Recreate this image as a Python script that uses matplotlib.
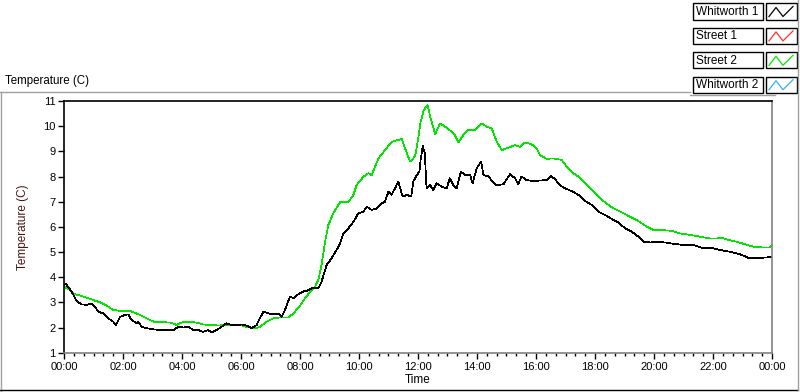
import matplotlib
matplotlib.use('Agg')
import matplotlib.pyplot as plt
from matplotlib.lines import Line2D
from matplotlib.patches import Rectangle
from matplotlib.ticker import MultipleLocator, FuncFormatter

plt.rcParams['font.family'] = ['Liberation Sans', 'DejaVu Sans']

# Lecturas aproximadas (hora del dia, temperatura C)
horas_w1 = [0.0, 0.07, 0.26, 0.43, 0.6, 0.77, 0.94, 1.05, 1.16, 1.33, 1.5, 1.67, 1.76, 1.9,
            2.07, 2.18, 2.29, 2.46, 2.52, 2.63, 2.8, 3.03, 3.25, 3.48, 3.71, 3.88, 4.05,
            4.22, 4.38, 4.55, 4.72, 4.89, 5.0, 5.17, 5.34, 5.51, 5.68, 5.85, 6.02, 6.19,
            6.36, 6.53, 6.64, 6.76, 6.93, 7.1, 7.26, 7.38, 7.49, 7.66, 7.78, 7.94, 8.15,
            8.21, 8.45, 8.62, 8.73, 8.9, 9.07, 9.24, 9.36, 9.47, 9.64, 9.81, 9.98, 10.15,
            10.26, 10.43, 10.6, 10.77, 10.88, 11.0, 11.1, 11.22, 11.33, 11.48, 11.63, 11.77,
            11.84, 11.96, 12.05, 12.09, 12.16, 12.23, 12.29, 12.41, 12.52, 12.63, 12.8,
            12.97, 13.08, 13.2, 13.31, 13.45, 13.6, 13.77, 13.85, 13.99, 14.14, 14.22,
            14.39, 14.53, 14.67, 14.9, 15.12, 15.29, 15.4, 15.51, 15.68, 15.91, 16.14,
            16.36, 16.5, 16.64, 16.81, 16.98, 17.21, 17.44, 17.66, 17.89, 18.11, 18.34,
            18.57, 18.79, 19.02, 19.24, 19.47, 19.64, 19.87, 20.15, 20.43, 20.71, 21.0,
            21.33, 21.67, 21.95, 22.24, 22.58, 22.92, 23.2, 23.48, 23.76, 24.0]
temp_w1 = [3.69, 3.72, 3.42, 3.05, 2.92, 2.9, 2.96, 2.83, 2.63, 2.56, 2.37, 2.23, 2.1, 2.43,
           2.5, 2.52, 2.3, 2.17, 2.23, 2.03, 1.97, 1.93, 1.9, 1.9, 1.9, 2.03, 2.0,
           2.03, 1.9, 1.9, 1.83, 1.9, 1.8, 1.9, 2.03, 2.17, 2.1, 2.1, 2.12, 2.08,
           1.97, 2.1, 2.37, 2.63, 2.56, 2.52, 2.56, 2.43, 2.7, 3.23, 3.16, 3.32, 3.45,
           3.45, 3.58, 3.55, 3.82, 4.48, 4.75, 5.08, 5.35, 5.74, 5.94, 6.2, 6.54, 6.6,
           6.8, 6.67, 6.73, 6.93, 7.0, 7.4, 7.27, 7.53, 7.8, 7.2, 7.27, 7.2,
           7.8, 8.06, 8.2, 8.66, 9.22, 8.92, 7.53, 7.66, 7.46, 7.73, 7.6,
           7.53, 7.93, 7.66, 7.53, 8.19, 8.06, 8.06, 7.73, 8.33, 8.59, 8.06,
           8.0, 7.8, 7.64, 7.7, 8.09, 7.93, 7.7, 8.0, 7.86, 7.82, 7.84,
           7.86, 8.02, 7.9, 7.66, 7.53, 7.42, 7.27, 7.03, 6.87, 6.6, 6.47,
           6.31, 6.18, 5.94, 5.81, 5.61, 5.41, 5.38, 5.41, 5.37, 5.32, 5.28,
           5.28, 5.15, 5.17, 5.08, 5.01, 4.91, 4.77, 4.75, 4.78, 4.8]

horas_s2 = [0.0, 0.2, 0.37, 0.54, 0.77, 0.99, 1.22, 1.45, 1.67, 1.9, 2.24, 2.46, 2.69, 2.92,
            3.08, 3.37, 3.6, 3.82, 3.99, 4.21, 4.49, 4.72, 5.0, 5.23, 5.46, 5.74, 6.02,
            6.25, 6.48, 6.64, 6.87, 7.1, 7.33, 7.6, 7.78, 8.0, 8.17, 8.34, 8.51, 8.62,
            8.73, 8.85, 8.96, 9.13, 9.36, 9.64, 9.81, 9.92, 10.15, 10.32, 10.43, 10.66,
            10.88, 11.11, 11.33, 11.45, 11.56, 11.73, 11.9, 11.98, 12.09, 12.2, 12.32,
            12.43, 12.58, 12.75, 12.92, 13.14, 13.25, 13.37, 13.54, 13.71, 13.94, 14.16,
            14.33, 14.5, 14.67, 14.84, 15.06, 15.29, 15.46, 15.63, 15.85, 16.02, 16.14,
            16.36, 16.59, 16.87, 17.04, 17.27, 17.49, 17.72, 17.94, 18.17, 18.39, 18.62,
            18.9, 19.19, 19.47, 19.75, 19.98, 20.32, 20.6, 20.88, 21.22, 21.56, 21.9,
            22.12, 22.29, 22.52, 22.8, 23.08, 23.37, 23.71, 23.93, 24.0]
temp_s2 = [3.62, 3.49, 3.32, 3.27, 3.19, 3.09, 3.0, 2.87, 2.7, 2.66, 2.66, 2.56, 2.43, 2.3,
           2.21, 2.21, 2.2, 2.1, 2.2, 2.23, 2.2, 2.12, 2.1, 2.08, 2.1, 2.1, 2.08,
           2.01, 1.97, 2.03, 2.23, 2.37, 2.4, 2.4, 2.56, 2.87, 3.16, 3.42, 3.62, 3.89,
           4.48, 5.41, 6.07, 6.54, 6.98, 6.98, 7.27, 7.66, 7.99, 8.13, 8.06, 8.72,
           9.05, 9.38, 9.45, 9.5, 9.12, 8.59, 8.8, 9.32, 10.18, 10.64, 10.84,
           10.31, 9.68, 10.11, 9.98, 9.78, 9.65, 9.36, 9.65, 9.85, 9.85, 10.11,
           9.98, 9.91, 9.38, 9.05, 9.14, 9.25, 9.18, 9.35, 9.28, 9.12, 8.85,
           8.7, 8.72, 8.66, 8.39, 8.13, 7.95, 7.66, 7.4, 7.13, 6.93, 6.74,
           6.58, 6.4, 6.23, 6.01, 5.87, 5.87, 5.84, 5.74, 5.68, 5.61, 5.54,
           5.54, 5.57, 5.48, 5.41, 5.31, 5.21, 5.18, 5.18, 5.27]

series_nombres = ['Whitworth 1', 'Street 1', 'Street 2', 'Whitworth 2']
series_colores = ['#000000', '#ff3030', '#00e600', '#30b0ff']

W, H = 800, 392


def fx(x):
    return x / W


def fy(y):
    return 1 - y / H


fig = plt.figure(figsize=(8, 3.92), dpi=100)
ax = fig.add_axes([fx(64), fy(352.7), fx(772) - fx(64), fy(101) - fy(352.7)])

ax.plot(horas_s2, temp_s2, color=series_colores[2], lw=0.5, antialiased=False)
ax.plot(horas_w1, temp_w1, color=series_colores[0], lw=0.5, antialiased=False)

ax.set_xlim(0, 24)
ax.set_ylim(1, 11)
ax.xaxis.set_major_locator(MultipleLocator(2))
ax.xaxis.set_minor_locator(MultipleLocator(1 / 3))
ax.xaxis.set_major_formatter(FuncFormatter(lambda v, p: '%02d:00' % (int(round(v)) % 24)))
ax.yaxis.set_major_locator(MultipleLocator(1))
ax.tick_params(axis='x', which='major', direction='out', length=4, width=1, labelsize=8, pad=3)
ax.tick_params(axis='x', which='minor', direction='out', length=2.5, width=1)
ax.tick_params(axis='y', direction='out', length=4, width=1, labelsize=8, pad=2)

for lado in ['left', 'top']:
    ax.spines[lado].set_color('black')
for lado in ['right', 'bottom']:
    ax.spines[lado].set_color('#808080')
for s in ax.spines.values():
    s.set_linewidth(1.2)

ax.set_xlabel('Time', fontsize=8.5, labelpad=1)
ax.set_ylabel('Temperature (C)', fontsize=8.5, color='#4a1515', labelpad=10)

fig.text(fx(5), fy(81), 'Temperature (C)', fontsize=8.3, va='center', ha='left')

# marco exterior
fig.add_artist(Line2D([fx(0), fx(690)], [fy(92), fy(92)], color='#a0a0a0', lw=1))
fig.add_artist(Line2D([fx(690), fx(775)], [fy(95), fy(95)], color='#a0a0a0', lw=1))
fig.add_artist(Line2D([fx(1), fx(1)], [fy(92), fy(392)], color='#a0a0a0', lw=1))
fig.add_artist(Line2D([fx(0), fx(798)], [fy(390), fy(390)], color='#000000', lw=1))
fig.add_artist(Line2D([fx(798), fx(798)], [fy(0), fy(390)], color='#a0a0a0', lw=1))

# leyenda estilo panel
for i, (nombre, color) in enumerate(zip(series_nombres, series_colores)):
    y0 = 3.5 + i * 24.4
    fig.add_artist(Rectangle((fx(693), fy(y0 + 16)), fx(70), fy(0) - fy(16),
                             facecolor='white', edgecolor='black', lw=1))
    fig.text(fx(696), fy(y0 + 8.3), nombre, fontsize=8.5, va='center', ha='left')
    fig.add_artist(Rectangle((fx(766), fy(y0 + 16)), fx(30.5), fy(0) - fy(16),
                             facecolor='white', edgecolor='black', lw=1))
    zx = [769, 776, 783, 793]
    zy = [y0 + 13, y0 + 4, y0 + 13, y0 + 3]
    fig.add_artist(Line2D([fx(v) for v in zx], [fy(v) for v in zy], color=color, lw=0.9))

fig.savefig('out.png', dpi=100)
